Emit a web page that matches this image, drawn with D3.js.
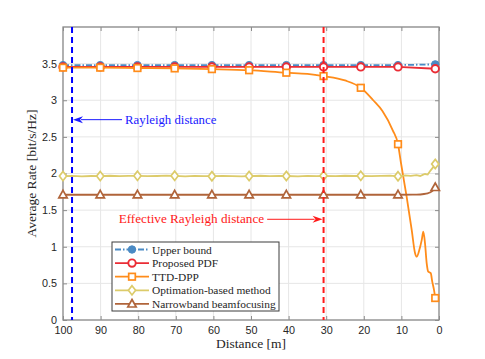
<!DOCTYPE html>
<html>
<head>
<meta charset="utf-8">
<script src="https://cdn.jsdelivr.net/npm/d3@7"></script>
<style>
  body { margin: 0; background: #fff; }
  svg { display: block; }
  .tick text { font-family: "Liberation Sans", Arial, sans-serif; font-size: 10.8px; fill: #262626; }
  .serif { font-family: "Liberation Serif", "Times New Roman", serif; }
</style>
</head>
<body>
<svg width="485" height="359"></svg>
<script>
// marker positions (distance in m)
var distances = [100, 90.1, 80.2, 70.3, 60.4, 50.5, 40.6, 30.7, 20.8, 10.9, 1];
var upperBound = [3.48, 3.48, 3.48, 3.48, 3.48, 3.48, 3.48, 3.48, 3.48, 3.48, 3.49];
var proposedPDF = [3.455, 3.455, 3.455, 3.455, 3.455, 3.455, 3.455, 3.455, 3.455, 3.455, 3.43];
var ttdMarkers = [3.445, 3.445, 3.44, 3.435, 3.425, 3.41, 3.376, 3.33, 3.17, 2.40, 0.30];
var optMarkers = [1.965, 1.965, 1.968, 1.968, 1.963, 1.965, 1.966, 1.968, 1.968, 1.962, 2.13];
var nbMarkers = [1.71, 1.71, 1.71, 1.71, 1.71, 1.71, 1.71, 1.71, 1.71, 1.71, 1.81];

// TTD-DPP full curve
var ttdCurveDist = [100, 90.1, 80.2, 70.3, 60.4, 50.5, 40.6, 35, 30.7, 25, 20.8, 17.5, 15, 12.3, 10.9, 10.1, 8.6, 7.26, 6.38, 5.93, 5.24, 4.6, 4.18, 3.72, 3.27, 2.85, 2.2, 1.78, 1.33, 1];
var ttdCurveRate = [3.445, 3.445, 3.44, 3.435, 3.425, 3.41, 3.376, 3.36, 3.33, 3.27, 3.17, 3.0, 2.85, 2.59, 2.40, 2.14, 1.68, 1.23, 0.915, 0.864, 0.955, 1.09, 1.205, 1.047, 0.774, 0.66, 0.64, 0.52, 0.41, 0.30];

// Optimation-based method, noisy curve
var optCurveDist = [100, 97.5, 95, 92.5, 90.1, 87.5, 85, 82.5, 80.2, 77.5, 75, 72.5, 70.3, 67.5, 65, 62.5, 60.4, 57.5, 55, 52.5, 50.5, 47.5, 45, 42.5, 40.6, 37.5, 35, 32.5, 30.7, 27.5, 25, 22.5, 20.8, 18, 15.5, 13, 10.9, 9, 7.5, 6, 5, 4.2, 3.7, 3, 2.4, 1.8, 1.3, 1];
var optCurveRate = [1.965, 1.968, 1.962, 1.966, 1.965, 1.969, 1.964, 1.967, 1.968, 1.963, 1.966, 1.97, 1.968, 1.962, 1.967, 1.964, 1.963, 1.968, 1.965, 1.961, 1.965, 1.969, 1.964, 1.967, 1.966, 1.962, 1.968, 1.965, 1.968, 1.964, 1.969, 1.966, 1.968, 1.963, 1.967, 1.971, 1.962, 1.975, 1.968, 1.978, 1.966, 1.985, 1.993, 1.985, 2.03, 2.07, 2.1, 2.13];

// Narrowband beamfocusing curve
var nbCurveDist = [100, 90.1, 80.2, 70.3, 60.4, 50.5, 40.6, 30.7, 20.8, 10.9, 6, 4, 3, 2.4, 1.8, 1.4, 1];
var nbCurveRate = [1.71, 1.71, 1.71, 1.71, 1.71, 1.71, 1.71, 1.71, 1.71, 1.71, 1.712, 1.72, 1.73, 1.74, 1.76, 1.78, 1.81];

var xTicks = [100, 90, 80, 70, 60, 50, 40, 30, 20, 10, 0];
var yTicks = [0, 0.5, 1, 1.5, 2, 2.5, 3, 3.5];

var rayleighDist = 97.6;
var effRayleighDist = 30.7;

var svg = d3.select('svg');
var padding = {t: 27, r: 46, b: 39, l: 63};
var width = 485 - padding.l - padding.r;
var height = 359 - padding.t - padding.b;

var xScale = d3.scaleLinear().domain([100, 0]).range([0, width]);
var yScale = d3.scaleLinear().domain([0, 4]).range([height, 0]);

var chartG = svg.append('g')
    .attr('transform', 'translate(' + [padding.l, padding.t] + ')');

// grid
chartG.append('g').selectAll('line.gx')
    .data(xTicks).enter().append('line')
    .attr('x1', function(d) { return xScale(d); })
    .attr('x2', function(d) { return xScale(d); })
    .attr('y1', 0).attr('y2', height)
    .attr('stroke', '#e6e6e6').attr('stroke-width', 1);
chartG.append('g').selectAll('line.gy')
    .data(yTicks.concat([4])).enter().append('line')
    .attr('y1', function(d) { return yScale(d); })
    .attr('y2', function(d) { return yScale(d); })
    .attr('x1', 0).attr('x2', width)
    .attr('stroke', '#e6e6e6').attr('stroke-width', 1);

// axes
var xAxis = d3.axisBottom(xScale).tickValues(xTicks).tickSizeInner(-4).tickSizeOuter(0).tickPadding(6);
var yAxis = d3.axisLeft(yScale).tickValues(yTicks).tickSizeInner(-4).tickSizeOuter(0).tickPadding(6)
    .tickFormat(function(d) { return d; });
chartG.append('g')
    .attr('class', 'x axis')
    .attr('transform', 'translate(' + [0, height] + ')')
    .call(xAxis);
chartG.append('g')
    .attr('class', 'y axis')
    .call(yAxis);
chartG.append('g')
    .call(d3.axisTop(xScale).tickValues(xTicks).tickSizeInner(-4).tickSizeOuter(0).tickFormat(''));
chartG.append('g')
    .attr('transform', 'translate(' + [width, 0] + ')')
    .call(d3.axisRight(yScale).tickValues(yTicks).tickSizeInner(-4).tickSizeOuter(0).tickFormat(''));
chartG.selectAll('.domain').remove();
chartG.selectAll('.tick line').attr('stroke', '#8c8c8c');
chartG.append('rect')
    .attr('width', width).attr('height', height)
    .attr('fill', 'none').attr('stroke', '#8c8c8c').attr('stroke-width', 1.3);

function zip(xs, ys) {
    return xs.map(function(d, i) { return [d, ys[i]]; });
}
var line = d3.line()
    .x(function(d) { return xScale(d[0]); })
    .y(function(d) { return yScale(d[1]); });
var smoothLine = d3.line()
    .x(function(d) { return xScale(d[0]); })
    .y(function(d) { return yScale(d[1]); })
    .curve(d3.curveMonotoneX);

var series = [
    {name: 'Upper bound', color: '#4a8ac4', dash: '6,2,1.5,2', marker: 'circleFilled',
     curve: zip(distances, upperBound), marks: zip(distances, upperBound), gen: line},
    {name: 'Proposed PDF', color: '#ea2c35', dash: null, marker: 'circle',
     curve: zip(distances, proposedPDF), marks: zip(distances, proposedPDF), gen: line},
    {name: 'TTD-DPP', color: '#ff8c1a', dash: null, marker: 'square',
     curve: zip(ttdCurveDist, ttdCurveRate), marks: zip(distances, ttdMarkers), gen: smoothLine},
    {name: 'Optimation-based method', color: '#dccb6a', dash: null, marker: 'diamond',
     curve: zip(optCurveDist, optCurveRate), marks: zip(distances, optMarkers), gen: line},
    {name: 'Narrowband beamfocusing', color: '#b0643a', dash: null, marker: 'triangle',
     curve: zip(nbCurveDist, nbCurveRate), marks: zip(distances, nbMarkers), gen: smoothLine}
];

function drawMarker(g, type, color) {
    if (type == 'circleFilled') {
        g.append('circle').attr('r', 3.7).attr('fill', color).attr('stroke', color);
    } else if (type == 'circle') {
        g.append('circle').attr('r', 3.7).attr('fill', '#fff').attr('stroke', color).attr('stroke-width', 1.9);
    } else if (type == 'square') {
        g.append('rect').attr('x', -3.3).attr('y', -3.3).attr('width', 6.6).attr('height', 6.6)
            .attr('fill', '#fff').attr('stroke', color).attr('stroke-width', 1.7);
    } else if (type == 'diamond') {
        g.append('path').attr('d', 'M0,-4.6L3.6,0L0,4.6L-3.6,0Z')
            .attr('fill', '#fff').attr('stroke', color).attr('stroke-width', 1.7);
    } else if (type == 'triangle') {
        g.append('path').attr('d', 'M0,-4.4L4.2,3.1L-4.2,3.1Z')
            .attr('fill', '#fff').attr('stroke', color).attr('stroke-width', 1.7);
    }
}

series.forEach(function(s) {
    var sg = chartG.append('g');
    sg.append('path')
        .attr('d', s.gen(s.curve))
        .attr('fill', 'none')
        .attr('stroke', s.color)
        .attr('stroke-width', 1.8)
        .attr('stroke-dasharray', s.dash);
    sg.selectAll('.mk')
        .data(s.marks).enter().append('g')
        .attr('class', 'mk')
        .attr('transform', function(d) { return 'translate(' + [xScale(d[0]), yScale(d[1])] + ')'; })
        .each(function() { drawMarker(d3.select(this), s.marker, s.color); });
});

// vertical distance lines
chartG.append('line')
    .attr('x1', xScale(rayleighDist)).attr('x2', xScale(rayleighDist))
    .attr('y1', 0).attr('y2', height)
    .attr('stroke', '#0000ff').attr('stroke-width', 2).attr('stroke-dasharray', '6,4');
chartG.append('line')
    .attr('x1', xScale(effRayleighDist)).attr('x2', xScale(effRayleighDist))
    .attr('y1', 0).attr('y2', height)
    .attr('stroke', '#ff1a1a').attr('stroke-width', 2).attr('stroke-dasharray', '6,4');

// annotations
function arrow(g, x1, x2, y, color) {
    var dir = x2 > x1 ? 1 : -1;
    g.append('line').attr('x1', x1).attr('x2', x2 - dir * 8).attr('y1', y).attr('y2', y)
        .attr('stroke', color).attr('stroke-width', 1);
    g.append('path')
        .attr('d', 'M' + x2 + ',' + y + 'L' + (x2 - dir * 10) + ',' + (y - 3.5) + 'L' + (x2 - dir * 7) + ',' + y +
            'L' + (x2 - dir * 10) + ',' + (y + 3.5) + 'Z')
        .attr('fill', color);
}
arrow(chartG, xScale(84.3), xScale(rayleighDist) + 1, yScale(2.735), '#1a1aff');
chartG.append('text')
    .attr('class', 'serif')
    .attr('x', xScale(83.5)).attr('y', yScale(2.675))
    .attr('fill', '#1a1aff').attr('font-size', '12.8px')
    .text('Rayleigh distance');
arrow(chartG, xScale(45.7), xScale(effRayleighDist) - 1, yScale(1.375), '#ff1a1a');
chartG.append('text')
    .attr('class', 'serif')
    .attr('x', xScale(46.5)).attr('y', yScale(1.32))
    .attr('text-anchor', 'end')
    .attr('fill', '#ff1a1a').attr('font-size', '13.2px')
    .text('Effective Rayleigh distance');

// axis labels
svg.append('text')
    .attr('class', 'serif')
    .attr('x', padding.l + width / 2).attr('y', 348)
    .attr('text-anchor', 'middle').attr('font-size', '13.5px').attr('fill', '#262626')
    .text('Distance [m]');
svg.append('text')
    .attr('class', 'serif')
    .attr('transform', 'translate(' + [36, padding.t + height / 2] + ') rotate(-90)')
    .attr('text-anchor', 'middle').attr('font-size', '13.5px').attr('fill', '#262626')
    .text('Average Rate [bit/s/Hz]');

// legend
var legendG = svg.append('g')
    .attr('transform', 'translate(' + [112, 242] + ')');
legendG.append('rect')
    .attr('width', 167).attr('height', 69)
    .attr('fill', '#fff').attr('stroke', '#3c3c3c').attr('stroke-width', 1);
var legendRows = legendG.selectAll('.lrow')
    .data(series).enter().append('g')
    .attr('class', 'lrow')
    .attr('transform', function(d, i) { return 'translate(' + [0, 7.5 + i * 13.6] + ')'; });
legendRows.append('line')
    .attr('x1', 3).attr('x2', 37).attr('y1', 0).attr('y2', 0)
    .attr('stroke', function(d) { return d.color; })
    .attr('stroke-width', 1.8)
    .attr('stroke-dasharray', function(d) { return d.dash; });
legendRows.each(function(d) {
    var mg = d3.select(this).append('g').attr('transform', 'translate(20,0)');
    drawMarker(mg, d.marker, d.color);
});
legendRows.append('text')
    .attr('class', 'serif')
    .attr('x', 40).attr('y', 4)
    .attr('font-size', '11.4px').attr('fill', '#262626')
    .text(function(d) { return d.name; });
</script>
</body>
</html>
